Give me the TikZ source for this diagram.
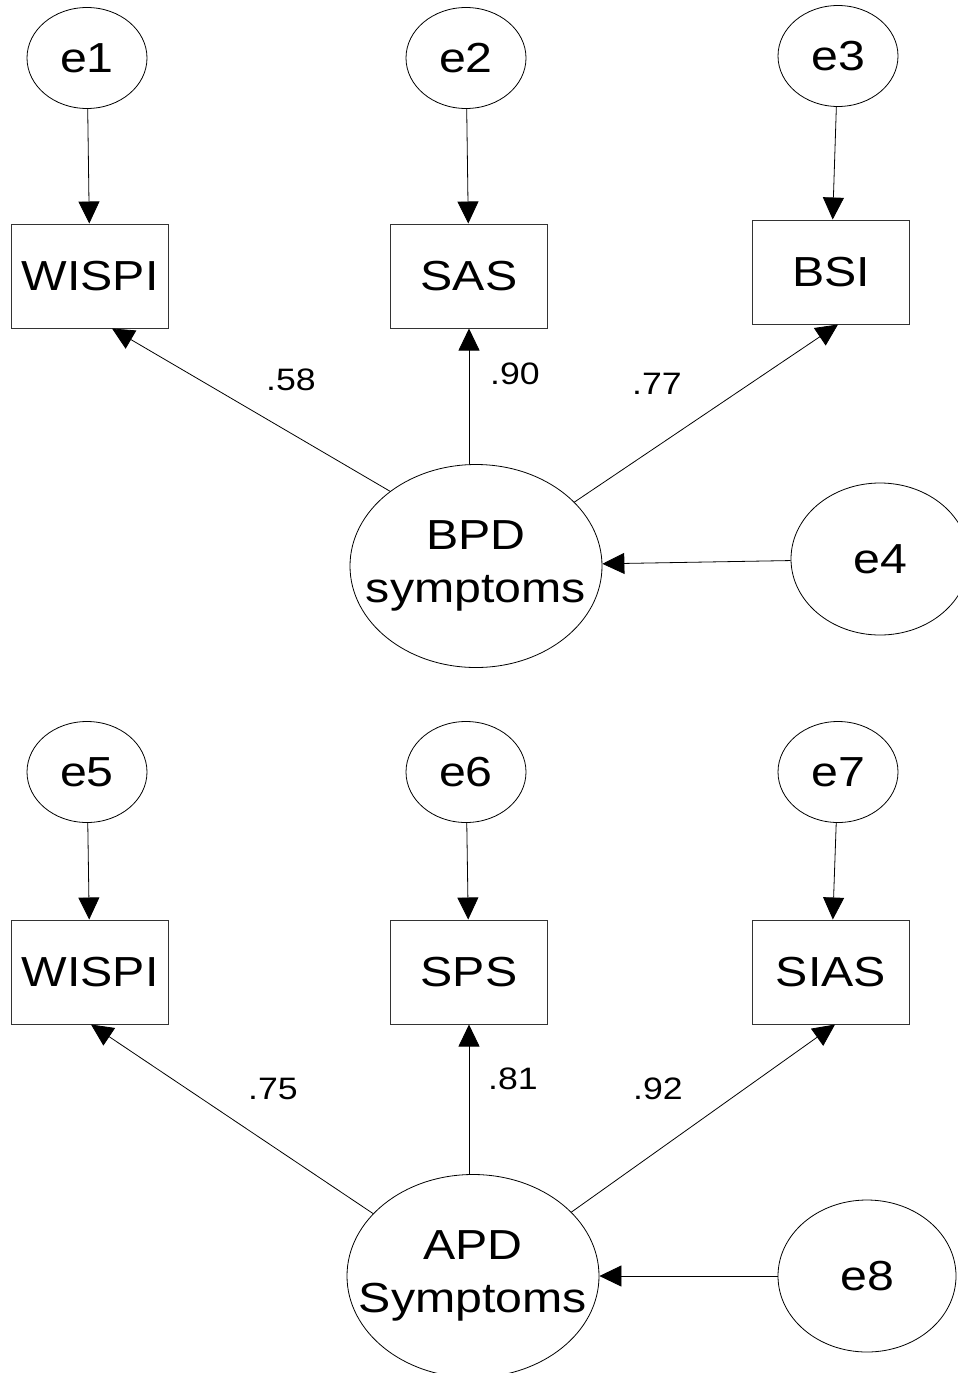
\documentclass[tikz,border=0pt]{standalone}
\usepackage{fontspec}
\setmainfont{Liberation Sans}[FakeStretch=1.15]
\usetikzlibrary{shapes.geometric, arrows.meta}

\begin{document}
\begin{tikzpicture}[x=1pt, y=-1pt]
			\tikzstyle{Error} = [ellipse, minimum width=120pt, minimum height=101pt, inner sep=0pt, draw=black, line width=0.8pt, font=\fontsize{42}{52}\selectfont]
			\tikzstyle{BigError} = [Error, minimum width=178pt, minimum height=152pt]
			\tikzstyle{Latent} = [ellipse, minimum width=252pt, minimum height=203pt, inner xsep=-45pt, inner ysep=0pt, align=center, draw=black, line width=0.8pt, font=\fontsize{42}{53}\selectfont]
			\tikzstyle{Measure} = [rectangle, minimum width=157pt, minimum height=104pt, inner sep=0pt, text centered, draw=black!80, line width=1pt, font=\fontsize{42}{50}\selectfont]
			\tikzstyle{Loading} = [font=\fontsize{31}{34}\selectfont]
			\tikzstyle{link} = [line width=0.8pt, -{Triangle[length=22pt, width=21pt]}]
			
			\clip (0,0) rectangle (958,1373);
			
			% BPD model
			\node (e1node) [Error] at (87,58) {e1};
			\node (e2node) [Error] at (466,58) {e2};
			\node (e3node) [Error] at (838,56) {e3};
			\node (wispiA) [Measure] at (90,276) {WISPI};
			\node (sasNode) [Measure] at (469,276) {SAS};
			\node (bsiNode) [Measure] at (831,272) {BSI};
			\node (bpdNode) [Latent] at (476,566) {BPD\\symptoms};
			\node (e4node) [BigError] at (880,559) {e4};
			\draw [link] (e1node) -- (wispiA);
			\draw [link] (e2node) -- (sasNode);
			\draw [link] (e3node) -- (bsiNode);
			\draw [link] (bpdNode.139) -- ([xshift=22pt]wispiA.south);
			\draw [link] (sasNode.south |- bpdNode.north) -- (sasNode.south);
			\draw [link] (bpdNode.33) -- ([xshift=7pt]bsiNode.south);
			\draw [link] (e4node) -- (bpdNode);
			\node (lblA) [Loading] at (291,380) {.58};
			\node (lblB) [Loading] at (515,374) {.90};
			\node (lblC) [Loading] at (657,384) {.77};
			
			% APD model
			\node (e5node) [Error] at (87,772) {e5};
			\node (e6node) [Error] at (466,772) {e6};
			\node (e7node) [Error] at (838,772) {e7};
			\node (wispiB) [Measure] at (90,972) {WISPI};
			\node (spsNode) [Measure] at (469,972) {SPS};
			\node (siasNode) [Measure] at (831,972) {SIAS};
			\node (apdNode) [Latent] at (473,1276) {APD\\Symptoms};
			\node (e8node) [BigError] at (867,1276) {e8};
			\draw [link] (e5node) -- (wispiB);
			\draw [link] (e6node) -- (spsNode);
			\draw [link] (e7node) -- (siasNode);
			\draw [link] (apdNode.148) -- ([xshift=1pt]wispiB.south);
			\draw [link] (spsNode.south |- apdNode.north) -- (spsNode.south);
			\draw [link] (apdNode.33) -- ([xshift=4pt]siasNode.south);
			\draw [link] (e8node) -- (apdNode);
			\node (lblD) [Loading] at (273,1089) {.75};
			\node (lblE) [Loading] at (513,1079) {.81};
			\node (lblF) [Loading] at (658,1089) {.92};
		\end{tikzpicture}
\end{document}
